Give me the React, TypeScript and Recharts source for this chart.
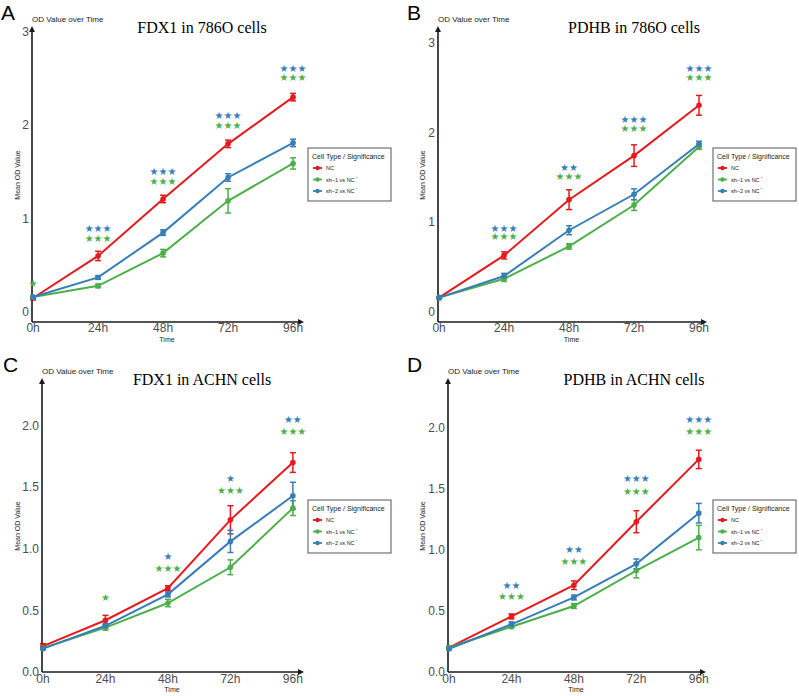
import React from "react";
import { ComposedChart, Line, Scatter, XAxis, YAxis, ErrorBar } from "recharts";

const hours = [0, 24, 48, 72, 96];
const hourLabels = ["0h", "24h", "48h", "72h", "96h"];

// A: FDX1 in 786O cells
const aNc = [0.15, 0.6, 1.21, 1.8, 2.3];
const aNcErr = [0.02, 0.05, 0.04, 0.04, 0.04];
const aSh1 = [0.16, 0.28, 0.63, 1.19, 1.59];
const aSh1Err = [0.01, 0.02, 0.04, 0.13, 0.06];
const aSh2 = [0.16, 0.37, 0.85, 1.44, 1.81];
const aSh2Err = [0.01, 0.02, 0.03, 0.04, 0.04];
const aSh1Sig = [1, 3, 3, 3, 3];
const aSh1SigY = [0.31, 0.79, 1.4, 2.0, 2.51];
const aSh2Sig = [0, 3, 3, 3, 3];
const aSh2SigY = [0, 0.89, 1.5, 2.1, 2.61];

// B: PDHB in 786O cells
const bNc = [0.16, 0.63, 1.25, 1.74, 2.3];
const bNcErr = [0.01, 0.04, 0.11, 0.12, 0.11];
const bSh1 = [0.16, 0.37, 0.73, 1.19, 1.84];
const bSh1Err = [0.01, 0.03, 0.03, 0.06, 0.03];
const bSh2 = [0.16, 0.4, 0.91, 1.31, 1.87];
const bSh2Err = [0.01, 0.03, 0.05, 0.06, 0.03];
const bSh1Sig = [0, 3, 3, 3, 3];
const bSh1SigY = [0, 0.84, 1.51, 2.04, 2.61];
const bSh2Sig = [0, 3, 2, 3, 3];
const bSh2SigY = [0, 0.93, 1.61, 2.14, 2.71];

// C: FDX1 in ACHN cells
const cNc = [0.21, 0.42, 0.68, 1.235, 1.7];
const cNcErr = [0.02, 0.04, 0.02, 0.115, 0.08];
const cSh1 = [0.195, 0.36, 0.56, 0.85, 1.33];
const cSh1Err = [0.01, 0.02, 0.03, 0.06, 0.06];
const cSh2 = [0.19, 0.375, 0.63, 1.06, 1.43];
const cSh2Err = [0.01, 0.02, 0.02, 0.09, 0.11];
const cSh1Sig = [0, 1, 3, 3, 3];
const cSh1SigY = [0, 0.605, 0.84, 1.47, 1.95];
const cSh2Sig = [0, 0, 1, 1, 2];
const cSh2SigY = [0, 0, 0.94, 1.57, 2.05];

// D: PDHB in ACHN cells
const dNc = [0.2, 0.455, 0.71, 1.23, 1.74];
const dNcErr = [0.01, 0.02, 0.035, 0.09, 0.075];
const dSh1 = [0.2, 0.37, 0.54, 0.83, 1.1];
const dSh1Err = [0.01, 0.01, 0.02, 0.06, 0.1];
const dSh2 = [0.19, 0.39, 0.61, 0.885, 1.3];
const dSh2Err = [0.01, 0.02, 0.02, 0.04, 0.08];
const dSh1Sig = [0, 3, 3, 3, 3];
const dSh1SigY = [0, 0.62, 0.905, 1.48, 1.97];
const dSh2Sig = [0, 2, 2, 3, 3];
const dSh2SigY = [0, 0.71, 1.005, 1.58, 2.07];

const RED = "#e41a1c";
const GREEN = "#4daf4a";
const BLUE = "#377eb8";
const SANS = "'Liberation Sans', Arial, sans-serif";
const SERIF = "'Liberation Serif', 'Times New Roman', serif";

type Box = { x0: number; y0: number; x1: number; y1: number };

type PanelCfg = {
  letter: string;
  letterX: number;
  title: string;
  titleX: number;
  yTitleX: number;
  box: Box;
  yDomain: [number, number];
  yTicks: number[];
  yDigits: number;
  xDomain: [number, number];
  tickGap: number;
  nc: number[]; ncErr: number[];
  sh1: number[]; sh1Err: number[];
  sh2: number[]; sh2Err: number[];
  sh1Sig: number[]; sh1SigY: number[];
  sh2Sig: number[]; sh2SigY: number[];
  legend: { x: number; y: number };
};

const panels: PanelCfg[] = [
  {
    letter: "A", letterX: 1, title: "FDX1 in 786O cells", titleX: 202, yTitleX: 18,
    box: { x0: 32, y0: 28, x1: 302, y1: 322 },
    yDomain: [-0.107, 3.04], yTicks: [0, 1, 2, 3], yDigits: 0,
    xDomain: [-0.4, 99.3], tickGap: 1,
    nc: aNc, ncErr: aNcErr, sh1: aSh1, sh1Err: aSh1Err, sh2: aSh2, sh2Err: aSh2Err,
    sh1Sig: aSh1Sig, sh1SigY: aSh1SigY, sh2Sig: aSh2Sig, sh2SigY: aSh2SigY,
    legend: { x: 308, y: 148 },
  },
  {
    letter: "B", letterX: 407, title: "PDHB in 786O cells", titleX: 634, yTitleX: 423,
    box: { x0: 438, y0: 28, x1: 705, y1: 322 },
    yDomain: [-0.111, 3.16], yTicks: [0, 1, 2, 3], yDigits: 0,
    xDomain: [-0.4, 98.2], tickGap: 1,
    nc: bNc, ncErr: bNcErr, sh1: bSh1, sh1Err: bSh1Err, sh2: bSh2, sh2Err: bSh2Err,
    sh1Sig: bSh1Sig, sh1SigY: bSh1SigY, sh2Sig: bSh2Sig, sh2SigY: bSh2SigY,
    legend: { x: 713, y: 148 },
  },
  {
    letter: "C", letterX: 3, title: "FDX1 in ACHN cells", titleX: 202, yTitleX: 18,
    box: { x0: 42, y0: 380, x1: 302, y1: 672 },
    yDomain: [0, 2.37], yTicks: [0, 0.5, 1, 1.5, 2], yDigits: 1,
    xDomain: [-0.38, 99.5], tickGap: 2,
    nc: cNc, ncErr: cNcErr, sh1: cSh1, sh1Err: cSh1Err, sh2: cSh2, sh2Err: cSh2Err,
    sh1Sig: cSh1Sig, sh1SigY: cSh1SigY, sh2Sig: cSh2Sig, sh2SigY: cSh2SigY,
    legend: { x: 308, y: 500 },
  },
  {
    letter: "D", letterX: 407, title: "PDHB in ACHN cells", titleX: 634, yTitleX: 423,
    box: { x0: 448, y0: 380, x1: 704, y1: 672 },
    yDomain: [0, 2.39], yTicks: [0, 0.5, 1, 1.5, 2], yDigits: 1,
    xDomain: [-0.38, 98.0], tickGap: 2,
    nc: dNc, ncErr: dNcErr, sh1: dSh1, sh1Err: dSh1Err, sh2: dSh2, sh2Err: dSh2Err,
    sh1Sig: dSh1Sig, sh1SigY: dSh1SigY, sh2Sig: dSh2Sig, sh2SigY: dSh2SigY,
    legend: { x: 713, y: 500 },
  },
];

const Y_AXIS_W = 40;
const X_AXIS_H = 30;
const PAD = 6;
const RIGHT_PAD = 30;

const starShape = (color: string) => (props: any) => (
  <text
    x={props.cx}
    y={props.cy}
    textAnchor="middle"
    dominantBaseline="central"
    fill={color}
    fontSize={10}
    fontFamily="'DejaVu Sans', sans-serif"
  >
    {"★".repeat(props.payload.n)}
  </text>
);

const PanelChart = ({ p }: { p: PanelCfg }) => {
  const { box } = p;
  const data = hours.map((t, i) => ({
    t,
    nc: p.nc[i], ncErr: p.ncErr[i],
    sh1: p.sh1[i], sh1Err: p.sh1Err[i],
    sh2: p.sh2[i], sh2Err: p.sh2Err[i],
  }));
  const sh1Stars = hours
    .map((t, i) => ({ t, y: p.sh1SigY[i], n: p.sh1Sig[i] }))
    .filter((d) => d.n > 0);
  const sh2Stars = hours
    .map((t, i) => ({ t, y: p.sh2SigY[i], n: p.sh2Sig[i] }))
    .filter((d) => d.n > 0);

  const width = box.x1 - box.x0 + Y_AXIS_W + RIGHT_PAD;
  const height = box.y1 - box.y0 + PAD + X_AXIS_H;
  const axisLine = { stroke: "#1a1a1a", strokeWidth: 1.6 };
  const tickStyle = { fontSize: 12, fill: "#4d4d4d", fontFamily: SANS };

  const series = [
    { key: "nc", err: "ncErr", color: RED },
    { key: "sh1", err: "sh1Err", color: GREEN },
    { key: "sh2", err: "sh2Err", color: BLUE },
  ];

  return (
    <div style={{ position: "absolute", left: box.x0 - Y_AXIS_W, top: box.y0 - PAD }}>
      <ComposedChart
        width={width}
        height={height}
        data={data}
        margin={{ top: PAD, right: RIGHT_PAD, bottom: 0, left: 0 }}
        style={{ overflow: "visible" }}
      >
        <XAxis
          dataKey="t"
          type="number"
          domain={p.xDomain}
          ticks={hours}
          tickFormatter={(v: number) => hourLabels[hours.indexOf(v)]}
          tickLine={false}
          tickSize={0}
          tickMargin={p.tickGap}
          axisLine={axisLine}
          tick={tickStyle}
          height={X_AXIS_H}
          interval={0}
        />
        <YAxis
          type="number"
          domain={p.yDomain}
          ticks={p.yTicks}
          tickFormatter={(v: number) => v.toFixed(p.yDigits)}
          tickLine={false}
          tickSize={0}
          tickMargin={3}
          axisLine={axisLine}
          tick={tickStyle}
          width={Y_AXIS_W}
          interval={0}
        />
        {series.map((s) => (
          <Line
            key={s.key}
            dataKey={s.key}
            stroke={s.color}
            strokeWidth={2}
            dot={{ r: 2.8, fill: s.color, stroke: s.color, strokeWidth: 0 }}
            activeDot={false}
            isAnimationActive={false}
          >
            <ErrorBar dataKey={s.err} width={3} strokeWidth={1.5} stroke={s.color} direction="y" />
          </Line>
        ))}
        <Scatter data={sh2Stars} dataKey="y" shape={starShape(BLUE)} isAnimationActive={false} />
        <Scatter data={sh1Stars} dataKey="y" shape={starShape(GREEN)} isAnimationActive={false} />
      </ComposedChart>
    </div>
  );
};

const legendItems = [
  { label: "NC", color: RED, sup: false },
  { label: "sh−1 vs NC", color: GREEN, sup: true },
  { label: "sh−2 vs NC", color: BLUE, sup: true },
];

const Overlay = () => (
  <svg
    width={799}
    height={696}
    style={{ position: "absolute", left: 0, top: 0, pointerEvents: "none" }}
  >
    {panels.map((p) => {
      const { box } = p;
      const midY = (box.y0 + box.y1) / 2;
      const midX = (box.x0 + box.x1) / 2;
      const lx = p.legend.x;
      const ly = p.legend.y;
      return (
        <g key={p.letter}>
          <text x={p.letterX} y={box.y0 - 8} fontSize={21} fontFamily={SANS} fill="#000">
            {p.letter}
          </text>
          <text x={box.x0} y={box.y0 - 6} fontSize={8} fontFamily={SANS} fill="#222">
            OD Value over Time
          </text>
          <text
            x={p.titleX}
            y={box.y0 + 5}
            fontSize={16}
            fontFamily={SERIF}
            textAnchor="middle"
            fill="#000"
          >
            {p.title}
          </text>
          <text
            transform={`translate(${p.yTitleX + 2}, ${midY}) rotate(-90)`}
            fontSize={7}
            fontFamily={SANS}
            textAnchor="middle"
            fill="#222"
          >
            Mean OD Value
          </text>
          <text
            x={midX}
            y={box.y1 + 20}
            fontSize={7}
            fontFamily={SANS}
            textAnchor="middle"
            fill="#222"
          >
            Time
          </text>
          <path
            d={`M${box.x0 - 3},${box.y0 + 4} L${box.x0},${box.y0 - 2} L${box.x0 + 3},${box.y0 + 4} Z`}
            fill="#1a1a1a"
          />
          <path
            d={`M${box.x1 - 4},${box.y1 - 3} L${box.x1 + 2},${box.y1} L${box.x1 - 4},${box.y1 + 3} Z`}
            fill="#1a1a1a"
          />
          <rect
            x={lx}
            y={ly}
            width={83}
            height={53}
            fill="#fff"
            stroke="#555"
            strokeWidth={1}
          />
          <text x={lx + 4} y={ly + 11} fontSize={7} fontFamily={SANS} fill="#222">
            Cell Type / Significance
          </text>
          {legendItems.map((it, i) => {
            const cy = ly + 20 + i * 11.5;
            return (
              <g key={it.label}>
                <line x1={lx + 5} x2={lx + 14} y1={cy} y2={cy} stroke={it.color} strokeWidth={1.8} />
                <circle cx={lx + 9.5} cy={cy} r={2.2} fill={it.color} />
                <text x={lx + 18} y={cy + 2} fontSize={5.5} fontFamily={SANS} fill="#222">
                  {it.label}
                  {it.sup ? (
                    <tspan dy={-2} fontSize={4}>
                      {" *"}
                    </tspan>
                  ) : null}
                </text>
              </g>
            );
          })}
        </g>
      );
    })}
  </svg>
);

export default function App() {
  return (
    <div
      style={{
        position: "absolute",
        left: 0,
        top: 0,
        width: 799,
        height: 696,
        background: "#fff",
        overflow: "hidden",
      }}
    >
      {panels.map((p) => (
        <PanelChart key={p.letter} p={p} />
      ))}
      <Overlay />
    </div>
  );
}
